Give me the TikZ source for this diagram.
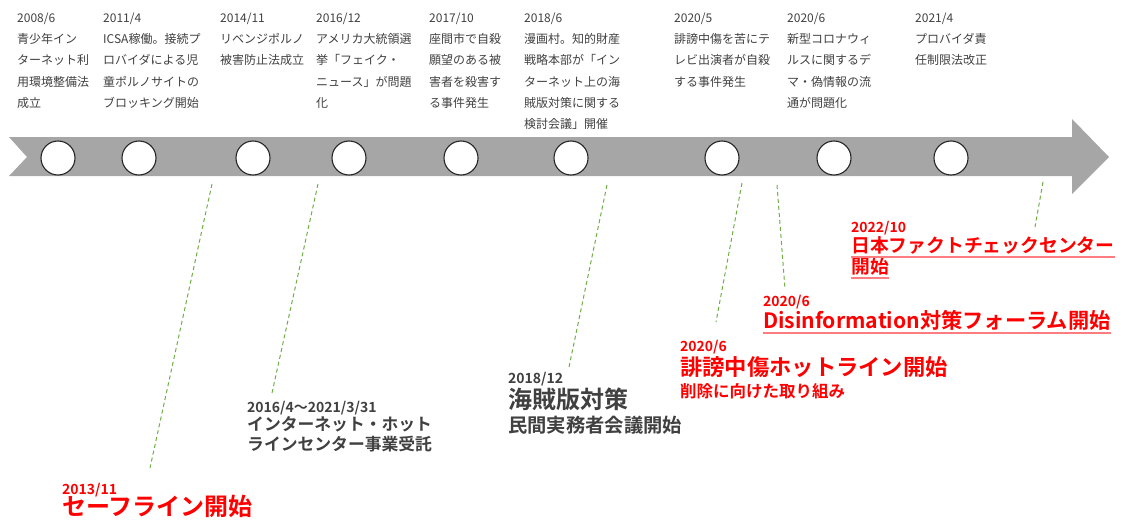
\documentclass[tikz,border=0pt]{standalone}
\usepackage{fontspec}
\newfontfamily\jp{Noto Sans CJK JP}[BoldFont={Noto Sans CJK JP Bold}]
\usepackage{tikz}
\usetikzlibrary{positioning}
\definecolor{bandgray}{HTML}{A6A6A6}
\definecolor{txtgray}{HTML}{404040}
\definecolor{leadgreen}{RGB}{112,173,71}
\definecolor{ulred}{HTML}{FF7C80}
\newcommand\fsz[1]{\fontsize{#1}{#1}\selectfont}
\tikzset{
  ev/.style={circle,draw=black!85,fill=white,line width=1.1pt,minimum size=34pt,inner sep=0pt},
  toplab/.style={anchor=north west,align=left,inner sep=0pt,text=txtgray,font=\jp\fontsize{12}{21.3}\selectfont},
  dt/.style={anchor=base west,inner sep=0pt,font=\jp\bfseries\fsz{14}},
  big/.style={anchor=base west,inner sep=0pt},
  redt/.style={text=red},
  grayt/.style={text=txtgray},
  lead/.style={leadgreen,line width=1pt,dash pattern=on 4pt off 3pt},
  uline/.style={ulred,line width=1.6pt}
}

\begin{document}
\begin{tikzpicture}[x=1pt,y=-1pt]
  \useasboundingbox (0,0) rectangle (1125,522);
  \fill[bandgray] (9,137) -- (1072,137) -- (1072,119) -- (1109,157)
    -- (1072,194) -- (1072,176) -- (9,176) -- (27,157) -- cycle;

  \node[ev] (c1) at (58,158) {};
  \node[ev] (c2) at (139,158) {};
  \node[ev] (c3) at (253,158) {};
  \node[ev] (c4) at (349,158) {};
  \node[ev] (c5) at (461,158) {};
  \node[ev] (c6) at (571,158) {};
  \node[ev] (c7) at (722,158) {};
  \node[ev] (c8) at (834,158) {};
  \node[ev] (c9) at (951,158) {};

  \node[toplab] (l1) at (17,12.5) {2008/6\\青少年イン\\ターネット利\\用環境整備法\\成立};
  \node[toplab] (l2) at (103,12.5) {2011/4\\ICSA稼働。接続プ\\ロバイダによる児\\童ポルノサイトの\\ブロッキング開始};
  \node[toplab] (l3) at (220,12.5) {2014/11\\リベンジポルノ\\被害防止法成立};
  \node[toplab] (l4) at (316,12.5) {2016/12\\アメリカ大統領選\\挙「フェイク・\\ニュース」が問題\\化};
  \node[toplab] (l5) at (429,12.5) {2017/10\\座間市で自殺\\願望のある被\\害者を殺害す\\る事件発生};
  \node[toplab] (l6) at (524,12.5) {2018/6\\漫画村。知的財産\\戦略本部が「イン\\ターネット上の海\\賊版対策に関する\\検討会議」開催};
  \node[toplab] (l7) at (674,12.5) {2020/5\\誹謗中傷を苦にテ\\レビ出演者が自殺\\する事件発生};
  \node[toplab] (l8) at (787,12.5) {2020/6\\新型コロナウィ\\ルスに関するデ\\マ・偽情報の流\\通が問題化};
  \node[toplab] (l9) at (915,12.5) {2021/4\\プロバイダ責\\任制限法改正};

  \coordinate (t1) at (212,184);
  \coordinate (b1) at (150,468);
  \coordinate (t2) at (318,184);
  \coordinate (b2) at (272,393);
  \coordinate (t3) at (607,185);
  \coordinate (b3) at (569,367);
  \coordinate (t4) at (742,183);
  \coordinate (b4) at (716,322);
  \coordinate (t5) at (777,185);
  \coordinate (b5) at (785,289);
  \coordinate (t6) at (1043,182);
  \coordinate (b6) at (1035,227);
  \draw[lead] (t1) -- (b1);
  \draw[lead] (t2) -- (b2);
  \draw[lead] (t3) -- (b3);
  \draw[lead] (t4) -- (b4);
  \draw[lead] (t5) -- (b5);
  \draw[lead] (t6) -- (b6);

  \node[dt,redt] (d1) at (62,494) {2013/11};
  \node[big,redt,font=\jp\bfseries\fsz{24}] (s1) at (62,515) {セーフライン開始};

  \node[dt,grayt] (d2) at (247,412) {2016/4〜2021/3/31};
  \node[big,grayt,font=\jp\bfseries\fsz{16.8}] (s2a) at (247,430) {インターネット・ホット};
  \node[big,grayt,font=\jp\bfseries\fsz{16.8}] (s2b) at (247,450) {ラインセンター事業受託};

  \node[dt,grayt] (d3) at (508,383) {2018/12};
  \node[big,grayt,font=\jp\bfseries\fsz{24}] (s3a) at (508,408) {海賊版対策};
  \node[big,grayt,font=\jp\bfseries\fsz{19.3}] (s3b) at (508,432) {民間実務者会議開始};

  \node[dt,redt] (d4) at (680,351) {2020/6};
  \node[big,redt,font=\jp\bfseries\fsz{22.3}] (s4a) at (680,375) {誹謗中傷ホットライン開始};
  \node[big,redt,font=\jp\bfseries\fsz{16.5}] (s4b) at (680,397) {削除に向けた取り組み};

  \node[dt,redt] (d5) at (763,306) {2020/6};
  \node[big,redt,font=\jp\bfseries\fsz{21.2}] (s5) at (763,328) {Disinformation対策フォーラム開始};
  \draw[uline] ([yshift=-5pt]s5.base west) -- ([yshift=-5pt]s5.base east);

  \node[dt,redt] (d6) at (851,232) {2022/10};
  \node[big,redt,font=\jp\bfseries\fsz{18.8}] (s6a) at (851,252) {日本ファクトチェックセンター};
  \node[big,redt,font=\jp\bfseries\fsz{18.8}] (s6b) at (851,273) {開始};
  \draw[uline] ([yshift=-5pt]s6a.base west) -- ([yshift=-5pt]s6a.base east);
  \draw[uline] ([yshift=-5pt]s6b.base west) -- ([yshift=-5pt]s6b.base east);
\end{tikzpicture}
\end{document}
